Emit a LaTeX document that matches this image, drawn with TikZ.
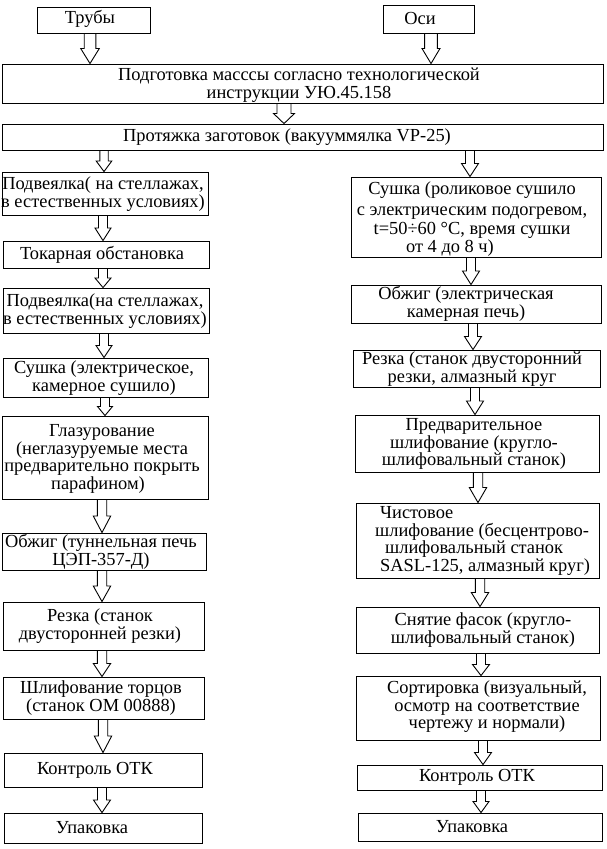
\documentclass[tikz,border=0pt]{standalone}
\usepackage{fontspec}
\setmainfont{Liberation Serif}[Ligatures=TeX]
\newfontfamily\refserif{Liberation Serif}
\usetikzlibrary{calc}
\newcommand\fsz{\refserif\fontsize{18.4}{17.5}\selectfont}
\tikzset{
  box/.style={draw=black, line width=0.9pt, inner sep=0pt},
  txt/.style={inner sep=0pt, align=center, font=\fsz, text=black},
  blockarr/.style={draw=black, line width=0.9pt, line join=miter},
}
% box: name, x1, y1, x2, y2
\newcommand\bx[5]{\node[box, minimum width={#4-#2}, minimum height={#5-#3}] (#1) at ({(#2+#4)/2},{(#3+#5)/2}) {};}
% hollow block arrow: from, to, x, shaft half width, head half width
\newcommand\barr[5]{%
  \draw[blockarr] let \p1=(#1.south), \p2=(#2.north), \n1={(\y1-\y2)*0.5} in
    ({(#3-#4)*1pt},\y1) -- ({(#3-#4)*1pt},{\y2+\n1*1pt}) -- ({(#3-#5)*1pt},{\y2+\n1*1pt})
    -- ({#3*1pt},\y2) -- ({(#3+#5)*1pt},{\y2+\n1*1pt}) -- ({(#3+#4)*1pt},{\y2+\n1*1pt})
    -- ({(#3+#4)*1pt},\y1);}
\begin{document}
\begin{tikzpicture}[x=1pt, y=-1pt]
\useasboundingbox[fill=white] (0,0) rectangle (606,849);

% top
\bx{T}{37}{7}{150}{33}
\node[txt] (Tt) at (90,19) {Трубы};
\bx{O}{383}{5}{474}{33}
\node[txt] (Ot) at (420,18) {Оси};
\bx{P1}{2}{64}{603}{103}
\node[txt] (P1t) at (299,85) {Подготовка масссы согласно технологической\\инструкции УЮ.45.158};
\bx{P2}{2}{124}{603}{150}
\node[txt] (P2t) at (287,137) {Протяжка заготовок (вакууммялка VP-25)};

% left column
\bx{L1}{2}{172}{208}{215}
\node[txt] (L1t) at (103,194) {Подвеялка( на стеллажах,\\в естественных условиях)};
\bx{L2}{3}{241}{209}{268}
\node[txt] (L2t) at (102,255) {Токарная обстановка};
\bx{L3}{3}{288}{209}{333}
\node[txt] (L3t) at (105,311) {Подвеялка(на стеллажах,\\в естественных условиях)};
\bx{L4}{3}{358}{208}{397}
\node[txt] (L4t) at (104,378) {Сушка (электрическое,\\камерное сушило)};
\bx{L5}{2}{416}{208}{499}
\node[txt] (L5t) at (102,459) {Глазурование\\(неглазуруемые места\hspace*{12pt}\\предварительно покрыть\\парафином)\hspace*{8pt}};
\bx{L6}{2}{533}{206}{570}
\node[txt] (L6t) at (101,552) {Обжиг (туннельная печь\\ЦЭП-357-Д)};
\bx{L7}{3}{602}{204}{650}
\node[txt] (L7t) at (100,626) {Резка (станок\\двусторонней резки)};
\bx{L8}{3}{677}{204}{719}
\node[txt] (L8t) at (101,698) {Шлифование торцов\\(станок ОМ 00888)};
\bx{L9}{4}{753}{202}{787}
\node[txt] (L9t) at (95,770) {Контроль ОТК};
\bx{L10}{4}{813}{202}{843}
\node[txt] (L10t) at (92,828) {Упаковка};

% right column
\bx{R1}{351}{177}{601}{257}
\node[txt] (R1t) at (472,219) {Сушка (роликовое сушило\\[3pt]с электрическим подогревом,\\[2pt]t=50÷60 °C, время сушки\hspace*{12pt}\\от 4 до 8 ч)\hspace*{44pt}};
\bx{R2}{351}{285}{601}{323}
\node[txt] (R2t) at (466,304) {Обжиг (электрическая\\камерная печь)};
\bx{R3}{353}{350}{600}{387}
\node[txt] (R3t) at (472,369) {Резка (станок двусторонний\\резки, алмазный круг};
\bx{R4}{355}{415}{599}{472}
\node[txt] (R4t) at (474,444) {Предварительное\\шлифование (кругло-\\шлифовальный станок)};
\bx{R5}{356}{503}{599}{578}
\node[txt, align=left, anchor=west] (R5t) at (375,541) {\hspace*{5pt}Чистовое\\шлифование (бесцентрово-\\\hspace*{10pt}шлифовальный станок\\\hspace*{5pt}SASL-125, алмазный круг)};
\bx{R6}{356}{607}{599}{653}
\node[txt] (R6t) at (483,630) {Снятие фасок (кругло-\\шлифовальный станок)};
\bx{R7}{356}{676}{600}{740}
\node[txt] (R7t) at (487,707) {Сортировка (визуальный,\\осмотр на соответствие\\чертежу и нормали)};
\bx{R8}{357}{765}{602}{790}
\node[txt] (R8t) at (477,777) {Контроль ОТК};
\bx{R9}{358}{813}{602}{841}
\node[txt] (R9t) at (472,827) {Упаковка};

% arrows
\barr{T}{P1}{90}{5.8}{9.3}
\barr{O}{P1}{431}{6.4}{9}
\barr{P1}{P2}{284}{7}{10.5}
\barr{P2}{L1}{104}{4.2}{7.8}
\barr{L1}{L2}{103}{4.5}{8}
\barr{L2}{L3}{103}{4.5}{8}
\barr{L3}{L4}{104}{4.5}{8}
\barr{L4}{L5}{105}{4.5}{7.5}
\barr{L5}{L6}{102}{4.7}{8.7}
\barr{L6}{L7}{102}{4.7}{8.7}
\barr{L7}{L8}{102}{4.7}{8.7}
\barr{L8}{L9}{103}{4.7}{8.7}
\barr{L9}{L10}{102}{4.5}{8.5}
\barr{P2}{R1}{470}{4.5}{8.5}
\barr{R1}{R2}{471}{4.5}{8.5}
\barr{R2}{R3}{473}{4.5}{8.5}
\barr{R3}{R4}{475}{4.5}{8.5}
\barr{R4}{R5}{478}{4.7}{8.7}
\barr{R5}{R6}{480}{4.7}{8.7}
\barr{R6}{R7}{481}{4.5}{8.5}
\barr{R7}{R8}{483}{4.5}{8.5}
\barr{R8}{R9}{481}{4.5}{8}
\end{tikzpicture}
\end{document}
